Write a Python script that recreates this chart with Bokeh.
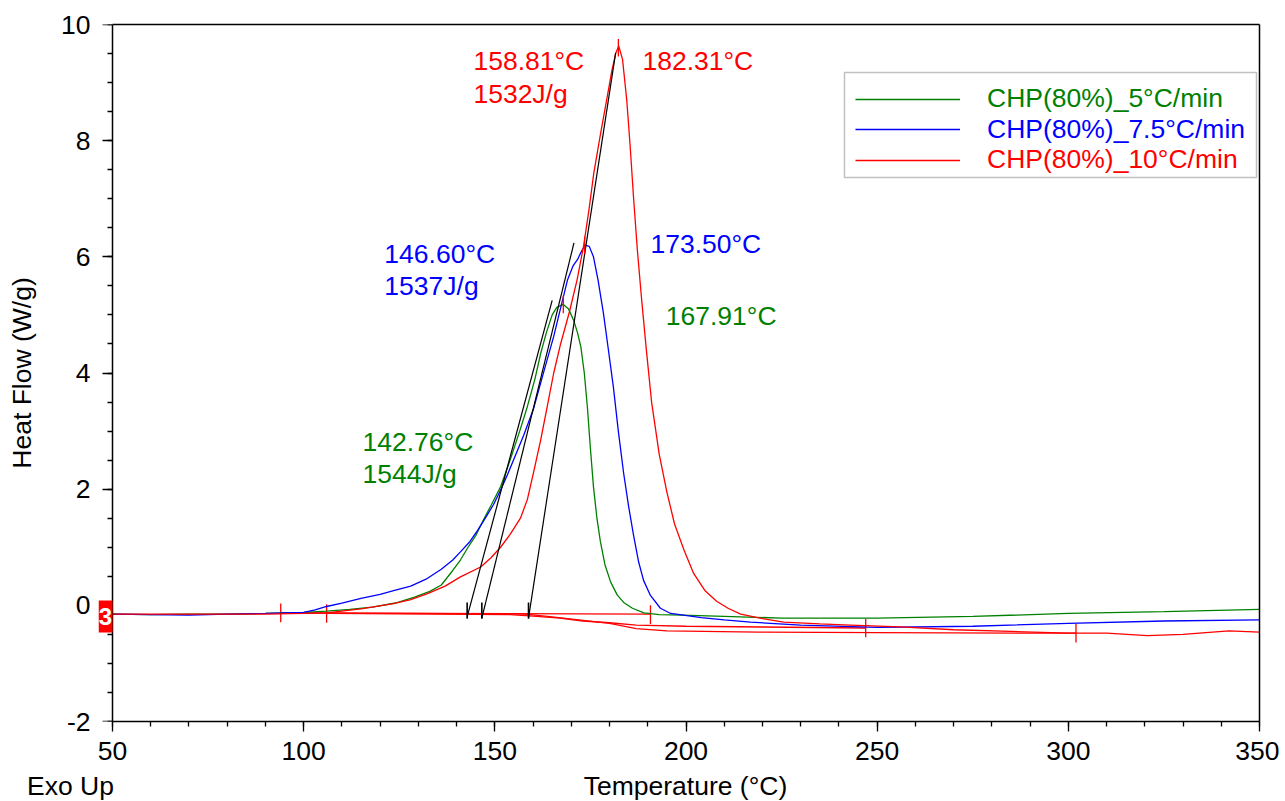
from bokeh.plotting import figure
from bokeh.layouts import column
from bokeh.models import (Range1d, Legend, LegendItem, Label, BoxAnnotation, FixedTicker,
                          LinearAxis, Div)
from bokeh.embed import file_html
from bokeh.resources import INLINE

# ---------------- data ----------------
green_T = [50, 60, 70, 80, 90, 100, 106, 112, 118, 124, 129, 133, 136, 139, 141, 143, 145, 147, 149,
           151.5, 154, 156.5, 158.5, 160.5, 162, 163.5, 165, 166.2, 167.9, 169.3, 170.6, 171.6, 172.5,
           173.4, 174.2, 175, 175.8, 176.7, 177.6, 178.8, 180.3, 182, 183.7, 186, 189, 193, 199, 210,
           225, 250, 275, 300, 325, 350]
green_HF = [-0.15, -0.16, -0.15, -0.15, -0.14, -0.12, -0.1, -0.07, -0.03, 0.04, 0.14, 0.24, 0.35, 0.6,
            0.78, 1.0, 1.2, 1.47, 1.72, 2.04, 2.5, 3.0, 3.42, 3.9, 4.34, 4.7, 5.0, 5.13, 5.18, 5.1, 4.91,
            4.7, 4.45, 4.0, 3.42, 2.7, 2.04, 1.5, 1.1, 0.7, 0.4, 0.18, 0.05, -0.05, -0.13, -0.16, -0.17,
            -0.19, -0.22, -0.22, -0.19, -0.14, -0.11, -0.07]

blue_T = [50, 60, 70, 80, 90, 95, 100, 103, 106, 110, 115, 120, 124, 128, 132, 136, 139, 141, 143.5,
          145.5, 147.5, 149.7, 151.5, 153.3, 155, 157.5, 160.1, 162.5, 165.4, 167.5, 169, 170.5, 171.6,
          172.7, 173.6, 174.7, 175.8, 177, 178.4, 179.7, 181, 182.3, 183.7, 185, 186.3, 187.6, 188.9,
          190.7, 193.3, 196, 204, 210, 216.9, 230, 250, 275, 300, 325, 350]
blue_HF = [-0.15, -0.16, -0.17, -0.15, -0.14, -0.13, -0.12, -0.08, -0.02, 0.04, 0.12, 0.19, 0.26, 0.33,
           0.45, 0.62, 0.78, 0.92, 1.1, 1.29, 1.5, 1.74, 1.98, 2.25, 2.52, 2.92, 3.38, 3.95, 4.63, 5.2,
           5.6, 5.85, 5.95, 6.1, 6.2, 6.18, 6.0, 5.6, 5.03, 4.4, 3.76, 3.0, 2.27, 1.7, 1.2, 0.75, 0.43,
           0.17, -0.05, -0.14, -0.21, -0.25, -0.29, -0.34, -0.38, -0.36, -0.31, -0.27, -0.25]

red_T = [50, 60, 70, 80, 90, 100, 106, 115, 123.5, 128, 132.4, 137, 141, 146.3, 149, 151.5, 154, 156.7,
         158.5, 160.1, 162, 163.7, 165.4, 167.2, 169.5, 171.5, 173.2, 174.6, 175.9, 177.6, 179.4, 180.6,
         181.6, 182.4, 183.4, 184.5, 185.4, 186.3, 187.3, 188.4, 189.7, 191, 193, 195, 197, 199.5, 202,
         205, 208, 211, 214.3, 220, 225.5, 235, 243, 256, 270, 285, 300, 310, 320.7, 330, 342, 350]
red_HF = [-0.15, -0.15, -0.15, -0.15, -0.15, -0.14, -0.13, -0.06, 0.03, 0.1, 0.2, 0.33, 0.49, 0.66, 0.82,
          1.0, 1.22, 1.5, 1.82, 2.28, 2.85, 3.42, 4.0, 4.5, 5.05, 5.6, 6.18, 6.8, 7.45, 8.1, 8.76, 9.2,
          9.5, 9.63, 9.4, 8.7, 7.9, 7.0, 6.1, 5.26, 4.35, 3.5, 2.6, 1.95, 1.4, 0.95, 0.55, 0.25, 0.07,
          -0.05, -0.15, -0.23, -0.29, -0.32, -0.34, -0.37, -0.42, -0.45, -0.48, -0.48, -0.52, -0.5,
          -0.44, -0.46]

# integration baselines (drawn in red by the instrument software)
bl_green_T = [94, 190.7]
bl_green_HF = [-0.13, -0.15]
bl_blue_T = [106, 154, 161, 167, 173, 180, 187, 200, 247]
bl_blue_HF = [-0.14, -0.16, -0.19, -0.22, -0.27, -0.30, -0.34, -0.36, -0.39]
bl_red_T = [94, 158, 165, 173, 180, 187, 195, 219, 250, 302]
bl_red_HF = [-0.13, -0.15, -0.20, -0.26, -0.31, -0.40, -0.44, -0.46, -0.47, -0.48]

# integration limit markers
limit_T = [94, 106, 190.7, 247, 302]
limit_HF = [-0.13, -0.14, -0.16, -0.39, -0.48]

# onset tangents
onset_T = [142.76, 146.60, 158.81]
onset_HF = [-0.20, -0.22, -0.22]
tangent_top_T = [165.0, 170.7, 181.6]
tangent_top_HF = [5.25, 6.24, 9.51]

# peaks
peak_T = [167.91, 173.50, 182.31]
peak_HF = [5.18, 6.20, 9.60]

series_names = ["CHP(80%)_5°C/min", "CHP(80%)_7.5°C/min", "CHP(80%)_10°C/min"]
colors = ["#008000", "#0000FF", "#FF0000"]

x_major = [50, 100, 150, 200, 250, 300, 350]
y_major = [-2, 0, 2, 4, 6, 8, 10]
y_labels = {-2: "-2", 0: "0", 2: "2", 4: "4", 6: "6", 8: "8", 10: "10"}

# annotation texts: (text, x, y, color)
annotations = [
    ("158.81°C", 144.4, 9.38, "#FF0000"),
    ("1532J/g", 144.4, 8.81, "#FF0000"),
    ("182.31°C", 188.6, 9.38, "#FF0000"),
    ("146.60°C", 121.1, 6.05, "#0000FF"),
    ("1537J/g", 121.1, 5.50, "#0000FF"),
    ("173.50°C", 190.7, 6.22, "#0000FF"),
    ("167.91°C", 194.7, 4.98, "#008000"),
    ("142.76°C", 115.4, 2.81, "#008000"),
    ("1544J/g", 115.4, 2.26, "#008000"),
]

x_title = "Temperature (°C)"
corner_note = "Exo Up"

FONT = "Liberation Sans"
FS = "26.5px"

# ---------------- layout constants ----------------
FRAME_W = 1161          # frame starts 14 px left of the y axis so the "3" tag fits inside it
AXIS_PX = 1147          # pixels from T=50 to T=350
LEFT_PAD = 14
x_start = 50 - LEFT_PAD * 300 / AXIS_PX

p = figure(frame_width=FRAME_W, frame_height=697, output_backend="svg", toolbar_location=None,
           x_range=Range1d(x_start, 350), y_range=Range1d(-2, 10),
           min_border_left=98, min_border_top=24, min_border_right=20, min_border_bottom=52)
p.background_fill_color = "white"
p.border_fill_color = "white"
p.outline_line_color = None
p.xgrid.visible = False
p.ygrid.visible = False

xa = p.xaxis[0]
xa.axis_line_color = "black"
xa.axis_line_width = 1.5
xa.major_tick_line_color = "black"
xa.minor_tick_line_color = "black"
xa.major_tick_line_width = 1.3
xa.minor_tick_line_width = 1.3
xa.major_tick_in = 0
xa.major_tick_out = 10
xa.minor_tick_in = 0
xa.minor_tick_out = 5
xa.major_label_text_font = FONT
xa.major_label_text_font_size = FS
xa.major_label_text_color = "black"
xa.ticker = FixedTicker(ticks=x_major, minor_ticks=list(range(50, 351, 10)))
xa.bounds = (50, 350)
xa.major_label_standoff = 10

# y axis labels + title (sits at the frame edge, line and ticks hidden)
ya = p.yaxis[0]
ya.ticker = FixedTicker(ticks=y_major)
ya.major_label_overrides = y_labels
ya.axis_line_color = None
ya.major_tick_line_color = None
ya.minor_tick_line_color = None
ya.major_tick_in = 0
ya.major_tick_out = 0
ya.minor_tick_in = 0
ya.minor_tick_out = 0
ya.major_label_standoff = 8
ya.major_label_text_font = FONT
ya.major_label_text_font_size = FS
ya.major_label_text_color = "black"
ya.axis_label = "Heat Flow (W/g)"
ya.axis_label_text_font = FONT
ya.axis_label_text_font_size = FS
ya.axis_label_text_font_style = "normal"
ya.axis_label_text_color = "black"
ya.axis_label_standoff = 21

# y axis line and ticks at T = 50
y_line = LinearAxis(fixed_location=50, bounds=(-2, 10),
                    ticker=FixedTicker(ticks=y_major, minor_ticks=[v / 2 for v in range(-4, 21)]),
                    major_label_text_font_size="0px", major_label_text_alpha=0,
                    axis_line_color="black", axis_line_width=1.5,
                    major_tick_line_color="black", minor_tick_line_color="black",
                    major_tick_line_width=1.3, minor_tick_line_width=1.3,
                    major_tick_in=0, major_tick_out=10, minor_tick_in=0, minor_tick_out=5)
p.add_layout(y_line, "left")

# top and right frame lines
top_ax = LinearAxis(bounds=(50, 350), ticker=FixedTicker(ticks=[]), major_tick_out=0, major_tick_in=0,
                    minor_tick_out=0, minor_tick_in=0, major_label_text_font_size="0px",
                    axis_line_color="black", axis_line_width=1.5)
right_ax = LinearAxis(bounds=(-2, 10), ticker=FixedTicker(ticks=[]), major_tick_out=0, major_tick_in=0,
                      minor_tick_out=0, minor_tick_in=0, major_label_text_font_size="0px",
                      axis_line_color="black", axis_line_width=1.5)
p.add_layout(top_ax, "above")
p.add_layout(right_ax, "right")

LW = 1.3
# integration baselines
p.line(bl_green_T, bl_green_HF, color="#FF0000", line_width=LW)
p.line(bl_blue_T, bl_blue_HF, color="#FF0000", line_width=LW)
p.line(bl_red_T, bl_red_HF, color="#FF0000", line_width=LW)
# limit markers
p.segment(x0=limit_T, y0=[v - 0.16 for v in limit_HF], x1=limit_T, y1=[v + 0.16 for v in limit_HF],
          color="#FF0000", line_width=LW)

# curves
r_green = p.line(green_T, green_HF, color=colors[0], line_width=LW)
r_blue = p.line(blue_T, blue_HF, color=colors[1], line_width=LW)
r_red = p.line(red_T, red_HF, color=colors[2], line_width=LW)

# tangents and onset ticks
p.segment(x0=onset_T, y0=onset_HF, x1=tangent_top_T, y1=tangent_top_HF, color="black", line_width=1.2)
p.segment(x0=onset_T, y0=[-0.23] * 3, x1=onset_T, y1=[0.05] * 3, color="black", line_width=1.6)
# peak markers
p.segment(x0=peak_T, y0=[v - 0.15 for v in peak_HF], x1=peak_T, y1=[v + 0.15 for v in peak_HF],
          color="#FF0000", line_width=LW)

for txt, x, y, c in annotations:
    p.add_layout(Label(x=x, y=y, text=txt, text_color=c, text_font=FONT, text_font_size=FS,
                       text_baseline="middle", text_align="left"))

# legend box
p.add_layout(BoxAnnotation(left=LEFT_PAD + 732, right=LEFT_PAD + 1144, bottom=544, top=649,
                           left_units="screen", right_units="screen",
                           bottom_units="screen", top_units="screen",
                           fill_color="white", fill_alpha=1.0, line_color="#333333", line_width=1.5,
                           level="annotation"))
for i, (r, name, c) in enumerate(zip([r_green, r_blue, r_red], series_names, colors)):
    lg = Legend(items=[LegendItem(label=name, renderers=[r])],
                location=(LEFT_PAD + 743, 607 - 30.5 * i),
                border_line_color=None, background_fill_alpha=0, padding=0, margin=0, spacing=0,
                glyph_width=105, glyph_height=30, label_height=30, label_standoff=27,
                label_text_font=FONT, label_text_font_size=FS, label_text_color=c)
    p.add_layout(lg, "center")

# red "3" tag at the left edge of the baseline
p.add_layout(BoxAnnotation(left=0, right=LEFT_PAD, bottom=89, top=121,
                           left_units="screen", right_units="screen",
                           bottom_units="screen", top_units="screen",
                           fill_color="#FF0000", fill_alpha=1.0, line_color=None, level="overlay"))
p.add_layout(Label(x=LEFT_PAD / 2, y=105, x_units="screen", y_units="screen", text="3",
                   text_font=FONT, text_font_size="24px", text_font_style="bold",
                   text_baseline="middle", text_align="center", text_color="white", level="overlay"))

# ---------------- bottom line: x title and "Exo Up" ----------------
STRIP_W = 98 + FRAME_W + 20
AX_LEFT = 98 + LEFT_PAD
strip_html = (
    f'<div style="position:relative;width:{STRIP_W}px;height:27px;'
    f'font-family:\'{FONT}\';font-size:{FS};color:black;line-height:27px;white-space:nowrap;">'
    f'<span style="position:absolute;left:27px;top:0;">{corner_note}</span>'
    f'<span style="position:absolute;left:{AX_LEFT}px;width:{AXIS_PX}px;top:0;'
    f'text-align:center;">{x_title}</span>'
    f'</div>'
)
strip = Div(text=strip_html, width=STRIP_W, height=27, margin=(0, 0, 0, 0))

layout = column(p, strip, spacing=0)
open("out.html", "w").write(file_html(layout, INLINE))
